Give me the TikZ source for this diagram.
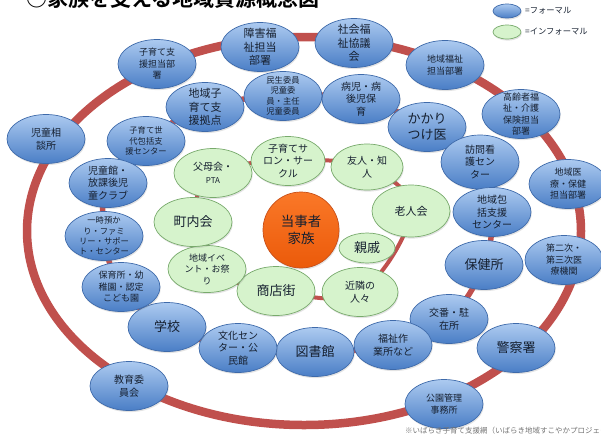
\documentclass[tikz,border=0pt]{standalone}
\usepackage{fontspec}
\setmainfont{Noto Sans CJK JP}[BoldFont={Noto Sans CJK JP Bold}]
\usetikzlibrary{shapes.geometric,shadows,backgrounds}
\definecolor{ringred}{RGB}{192,80,77}
\definecolor{fbluetop}{RGB}{172,202,240}
\definecolor{fbluebot}{RGB}{74,126,198}
\definecolor{fblueline}{RGB}{62,106,170}
\definecolor{igreen}{RGB}{214,243,204}
\definecolor{igreenline}{RGB}{120,170,108}
\definecolor{orangetop}{RGB}{250,120,40}
\definecolor{orangebot}{RGB}{235,90,10}
\definecolor{orangeline}{RGB}{200,80,25}
\definecolor{txtc}{RGB}{22,32,48}
\begin{document}
\begin{tikzpicture}[x=1pt,y=-1pt,
  basenode/.style={ellipse, minimum width=78pt, minimum height=49pt, inner sep=0pt, line width=0.7pt,
    drop shadow={opacity=0.22,shadow xshift=0.8pt,shadow yshift=-1.6pt}},
  formal/.style={basenode, draw=fblueline, top color=fbluetop, bottom color=fbluebot},
  informal/.style={basenode, draw=igreenline, fill=igreen},
  lbl/.style={align=center, text=txtc, inner sep=0pt},
  szA/.style={font=\fontsize{8.3}{10.4}\selectfont},
  szB/.style={font=\fontsize{9}{11.5}\selectfont},
  szC/.style={font=\fontsize{10}{12.8}\selectfont},
  szD/.style={font=\fontsize{11}{13.6}\selectfont},
  szE/.style={font=\fontsize{13}{16}\selectfont},
  ringline/.style={draw=ringred, line cap=round, line join=round}
]
\useasboundingbox (0,0) rectangle (601,434);

% title and legend
\node[font=\fontsize{21}{21}\selectfont\bfseries, anchor=base west, inner sep=0pt] (title) at (26,6) {○家族を支える地域資源概念図};
\node[formal, minimum width=28pt, minimum height=14pt] (legf) at (507,11) {};
\node[informal, minimum width=28pt, minimum height=14pt] (legi) at (507,32) {};
\node[lbl, szA, anchor=west] (legft) at (525,11) {=フォーマル};
\node[lbl, szA, anchor=west] (legit) at (525,32) {=インフォーマル};

% outer ring nodes
\node[formal, label={[lbl,szC]center:{児童相\\談所}}] (jidosodan) at (46,139) {};
\node[formal, label={[lbl,szB]center:{子育て支\\援担当部\\署}}] (kosodateshien) at (157,64) {};
\node[formal, label={[lbl,szD]center:{障害福\\祉担当\\部署}}] (shogai) at (260,47) {};
\node[formal, label={[lbl,szD]center:{社会福\\祉協議\\会}}] (shakyo) at (354,43) {};
\node[formal, label={[lbl,szB]center:{地域福祉\\担当部署}}] (chiikifukushi) at (445,65) {};
\node[formal, label={[lbl,szB]center:{高齢者福\\祉・介護\\保険担当\\部署}}] (koreisha) at (521,114) {};
\node[formal, label={[lbl,szB]center:{地域医\\療・保健\\担当部署}}] (chiikiiryo) at (568,184) {};
\node[formal, label={[lbl,szB]center:{第二次・\\第三次医\\療機関}}] (daini) at (564,260) {};
\node[formal, label={[lbl,szE]center:{警察署}}] (keisatsu) at (516,348) {};
\node[formal, label={[lbl,szB]center:{公園管理\\事務所}}] (koen) at (444,404) {};
\node[formal, label={[lbl,szC]center:{教育委\\員会}}] (kyoiku) at (129,386) {};

% middle ring nodes
\node[formal, label={[lbl,szA]center:{子育て世\\代包括支\\援センター}}] (kosodatesedai) at (146,141) {};
\node[formal, label={[lbl,szD]center:{地域子\\育て支\\援拠点}}] (chiikikosodate) at (205,107) {};
\node[formal, label={[lbl,szA]center:{民生委員\\児童委\\員・主任\\児童委員}}] (minsei) at (283,96) {};
\node[formal, label={[lbl,szC]center:{病児・病\\後児保\\育}}] (byoji) at (361,99) {};
\node[formal, label={[lbl,szE]center:{かかり\\つけ医}}] (kakari) at (427,127) {};
\node[formal, minimum height=54pt, label={[lbl,szC]center:{訪問看\\護セン\\ター}}] (homon) at (480,162) {};
\node[formal, label={[lbl,szC]center:{地域包\\括支援\\センター}}] (hokatsu) at (492,212) {};
\node[formal, label={[lbl,szE]center:{保健所}}] (hokenjo) at (484,265) {};
\node[formal, label={[lbl,szC]center:{交番・駐\\在所}}] (koban) at (449,319) {};
\node[formal, label={[lbl,szC]center:{福祉作\\業所など}}] (sagyo) at (393,345) {};
\node[formal, label={[lbl,szE]center:{図書館}}] (tosho) at (315,352) {};
\node[formal, label={[lbl,szC]center:{文化セン\\ター・公\\民館}}] (bunka) at (238,348) {};
\node[formal, label={[lbl,szE]center:{学校}}] (gakko) at (167,327) {};
\node[formal, label={[lbl,szB]center:{保育所・幼\\稚園・認定\\こども園}}] (hoiku) at (121,287) {};
\node[formal, label={[lbl,szA]center:{一時預か\\り・ファミ\\リー・サポー\\ト・センター}}] (ichiji) at (104,236) {};
\node[formal, label={[lbl,szC]center:{児童館・\\放課後児\\童クラブ}}] (jidokan) at (108,183) {};

% inner ring nodes
\node[informal, label={[lbl,szC]center:{父母会・\\{\fontsize{8}{10}\selectfont PTA}}}] (fubo) at (213,173) {};
\node[informal, minimum width=74pt, label={[lbl,szC]center:{子育てサ\\ロン・サー\\クル}}] (salon) at (288,161) {};
\node[informal, minimum width=72pt, minimum height=46pt, label={[lbl,szC]center:{友人・知\\人}}] (yujin) at (367,167) {};
\node[informal, minimum height=52pt, label={[lbl,szD]center:{老人会}}] (rojin) at (411,211) {};
\node[informal, minimum width=56pt, minimum height=30pt, label={[lbl,szE]center:{親戚}}] (shinseki) at (367,248) {};
\node[informal, minimum width=76pt, label={[lbl,szC]center:{近隣の\\人々}}] (kinrin) at (360,292) {};
\node[informal, label={[lbl,szE]center:{商店街}}] (shotengai) at (276,291) {};
\node[informal, minimum height=47pt, label={[lbl,szB]center:{地域イベ\\ント・お祭\\り}}] (event) at (207,269) {};
\node[informal, label={[lbl,szE]center:{町内会}}] (chonai) at (193,222) {};

% centre
\node[circle, minimum size=76pt, inner sep=0pt, line width=0.7pt, draw=orangeline, top color=orangetop, bottom color=orangebot,
  drop shadow={opacity=0.22,shadow xshift=0.8pt,shadow yshift=-1.6pt},
  label={[lbl,font=\fontsize{13.5}{17}\selectfont]center:{当事者\\家族}}] (tojisha) at (301,230) {};

% footnote
\node[lbl, anchor=north west, text=black!55, font=\fontsize{7.5}{9}\selectfont] (note) at (405,427) {※いばらき子育て支援網（いばらき地域すこやかプロジェクト）より};

% rings
\begin{scope}[on background layer]
  \draw[ringline, line width=8.5pt] (304,231) ellipse [x radius=277, y radius=194];
  \draw[ringline, line width=5.5pt] plot[smooth cycle, tension=0.6] coordinates {
    (chiikikosodate.center) (minsei.center) (byoji.center) (kakari.center) (homon.center)
    (hokatsu.center) (hokenjo.center) (koban.center) (sagyo.center) (tosho.center)
    (bunka.center) (gakko.center) (hoiku.center) (ichiji.center) (jidokan.center) (kosodatesedai.center)};
  \draw[ringline, line width=4pt] plot[smooth cycle, tension=0.6] coordinates {
    (fubo.center) (salon.center) (yujin.center) (rojin.center) (kinrin.center)
    (shotengai.center) (event.center) (chonai.center)};
\end{scope}
\end{tikzpicture}
\end{document}
